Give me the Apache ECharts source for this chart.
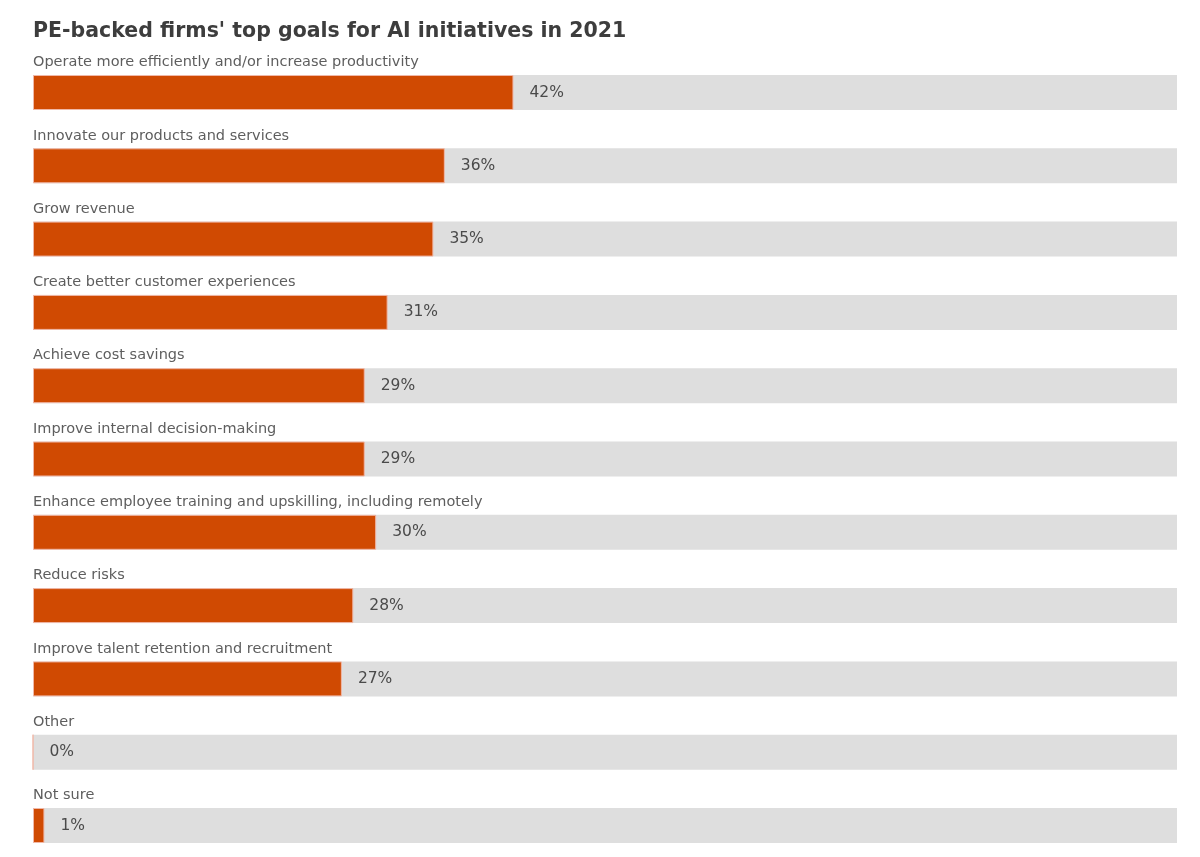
<!DOCTYPE html>
<html><head><meta charset="utf-8">
<script src="https://cdn.jsdelivr.net/npm/echarts@6/dist/echarts.min.js"></script>
<style>html,body{margin:0;padding:0;background:#fff}#c{width:1200px;height:857px}</style>
</head><body><div id="c"></div>
<script>
const categories = [
  "Operate more efficiently and/or increase productivity",
  "Innovate our products and services",
  "Grow revenue",
  "Create better customer experiences",
  "Achieve cost savings",
  "Improve internal decision-making",
  "Enhance employee training and upskilling, including remotely",
  "Reduce risks",
  "Improve talent retention and recruitment",
  "Other",
  "Not sure"
];
const values = [42, 36, 35, 31, 29, 29, 30, 28, 27, 0, 1];
const trackMax = 100;
const trackValues = categories.map(() => trackMax);

const FONT = '"DejaVu Sans", "Liberation Sans", Arial, sans-serif';
const chart = echarts.init(document.getElementById('c'), null, {renderer: 'canvas'});
chart.setOption({
  animation: false,
  backgroundColor: '#ffffff',
  title: {
    text: "PE-backed firms' top goals for AI initiatives in 2021",
    left: 28, top: 16,
    textStyle: {fontFamily: FONT, fontSize: 20.5, fontWeight: 'bold', color: '#3d3d3d'}
  },
  grid: {left: 33, right: 23, top: 92.5, bottom: 31.5, containLabel: false},
  xAxis: {type: 'value', min: 0, max: trackMax, show: false},
  yAxis: {type: 'category', data: categories, inverse: true, show: false, boundaryGap: false},
  series: [
    {
      type: 'bar', data: trackValues, barWidth: 35, barGap: '-100%',
      itemStyle: {color: '#dedede'}, silent: true,
      label: {
        show: true, position: [0, -20], formatter: '{b}',
        fontFamily: FONT, fontSize: 14.5, color: '#5e5e5e'
      }
    },
    {
      type: 'bar', data: values, barWidth: 35,
      itemStyle: {color: '#d04a02', borderColor: '#f0b8a8', borderWidth: 1},
      label: {
        show: true, position: 'right', distance: 16, formatter: '{c}%',
        fontFamily: FONT, fontSize: 15.5, color: '#4a4a4a'
      }
    }
  ]
});
</script></body></html>
